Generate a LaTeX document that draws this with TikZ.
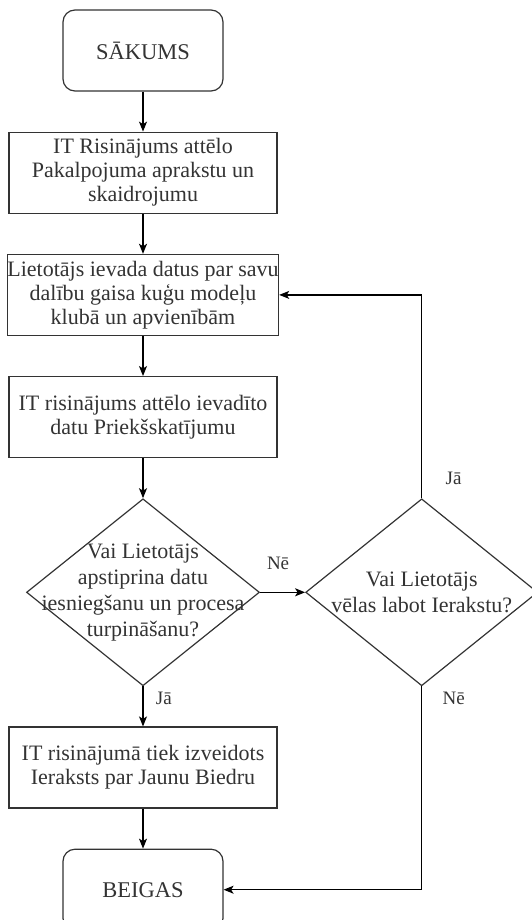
\documentclass[tikz,border=0pt]{standalone}
\usepackage{fontspec}
\setmainfont{Liberation Serif}
\usepackage{tikz}
\usetikzlibrary{arrows.meta, positioning, shapes.geometric}

\begin{document}
\begin{tikzpicture}[
  x=1pt, y=1pt,
  term/.style={rectangle, rounded corners=12pt, draw=black!80, line width=1.2pt, minimum width=160pt, minimum height=81pt, font=\fontsize{22.5}{24}\selectfont, text=black!80},
  proc/.style={rectangle, draw=black!80, line width=1.2pt, minimum width=268pt, minimum height=81pt, inner sep=0pt, align=center, font=\fontsize{22}{24}\selectfont, text=black!80},
  decision/.style={diamond, draw=black!80, line width=1.2pt, minimum width=233pt, minimum height=187pt, inner sep=0pt},
  dtext/.style={align=center, font=\fontsize{22}{26}\selectfont, text=black!80},
  arr/.style={-{Stealth[length=10pt, width=8pt, inset=2.5pt]}, line width=1.2pt},
  lbl/.style={font=\fontsize{19}{22}\selectfont, text=black!80},
  node distance=40pt
]
\useasboundingbox (0,0) rectangle (532,-920);

\node[term] (start) at (143,-50.5) {SĀKUMS};
\node[proc, below=of start] (show) {IT Risinājums attēlo\\Pakalpojuma apraks\-tu un\\skaidrojumu};
\node[proc, below=of show] (input) {Lietotājs ievada datus par savu\\dalību gaisa kuģu modeļu\\klubā un apvienībām};
\node[proc, below=of input] (preview) {IT risinājums attēlo ievadīto\\datu Priekšskatījumu};
\node[decision, below=of preview, label={[dtext]center:{Vai Lietotājs\\apstiprina datu\\iesniegšanu un procesa\\turpināšanu?}}] (confirm) {};
\node[decision, right=45pt of confirm, minimum width=232pt, label={[dtext]center:{Vai Lietotājs\\vēlas labot Ierakstu?}}] (edit) {};
\node[proc, below=of confirm] (record) {IT risinājumā tiek izveidots\\Ieraksts par Jaunu Biedru};
\node[term, below=of record] (finish) {BEIGAS};

\draw[arr] (start) -- (show);
\draw[arr] (show) -- (input);
\draw[arr] (input) -- (preview);
\draw[arr] (preview) -- (confirm);
\draw[arr] (confirm) -- node[pos=0.3, right=9pt, lbl]{Jā} (record);
\draw[arr] (record) -- (finish);
\draw[arr] (confirm.east) -- node[pos=0.4, above=19pt, lbl]{Nē} (edit.west);
\draw[arr] (edit.north) |- node[pos=0.05, right=20pt, lbl]{Jā} (input.east);
\draw[arr] (edit.south) |- node[pos=0.03, right=17pt, lbl]{Nē} (finish.east);
\end{tikzpicture}
\end{document}
